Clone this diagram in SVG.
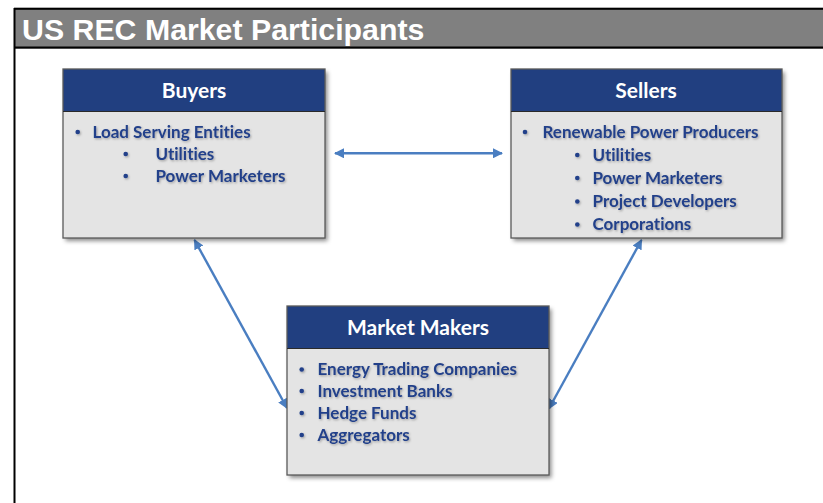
<svg xmlns="http://www.w3.org/2000/svg" width="823" height="503" viewBox="0 0 823 503">
<defs>
<filter id="boxShadow" x="-10%" y="-10%" width="125%" height="125%">
<feDropShadow dx="2.5" dy="3" stdDeviation="2" flood-color="#000" flood-opacity="0.45"/>
</filter>
<filter id="txtShadow" x="-5%" y="-20%" width="115%" height="160%">
<feDropShadow dx="1" dy="1.2" stdDeviation="0.9" flood-color="#000" flood-opacity="0.3"/>
</filter>
<marker id="ah" viewBox="0 0 10 10" refX="9" refY="5" markerWidth="4.2" markerHeight="4.2" orient="auto-start-reverse" markerUnits="strokeWidth">
<path d="M0,0 L10,5 L0,10 Z" fill="#4A7EC1"/>
</marker>
</defs>
<style>
.hdr{fill:#213F80;}
.body{fill:#E4E4E4;}
.frame{stroke:#5A5A5A;stroke-width:1.3;fill:none;}
.ttl{font-family:Lato,"Open Sans","Liberation Sans",sans-serif;font-weight:bold;font-size:21px;fill:#FFFFFF;text-anchor:middle;}
.itm{font-family:Lato,"Open Sans","Liberation Sans",sans-serif;font-weight:bold;font-size:17px;fill:#23418A;font-variant-ligatures:none;}
.bul{fill:#23418A;}
.conn{stroke:#4A7EC1;stroke-width:2.4;fill:none;marker-start:url(#ah);marker-end:url(#ah);}
</style>
<rect x="0" y="0" width="823" height="503" fill="#FFFFFF"/>
<g id="header">
<rect x="14" y="7" width="809" height="1" fill="#B0B0B0"/>
<rect x="14" y="8" width="809" height="40" fill="#808080"/>
<rect x="14" y="8" width="809" height="1.8" fill="#000"/>
<rect x="14" y="46.5" width="809" height="2.2" fill="#000"/>
<rect x="13.5" y="8" width="2" height="495" fill="#000"/>
<text x="22" y="40" font-family="'Liberation Sans',Arial,sans-serif" font-weight="bold" font-size="30.3" fill="#FFFFFF">US REC Market Participants</text>
</g>
<g id="connectors">
<line class="conn" x1="335" y1="153.3" x2="502" y2="153.3"/>
<line class="conn" x1="194.5" y1="240" x2="287" y2="408"/>
<line class="conn" x1="641.5" y1="240" x2="549" y2="408.5"/>
</g>
<g id="buyers">
<g filter="url(#boxShadow)">
<rect class="body" x="63" y="69" width="262" height="169"/>
</g>
<rect class="hdr" x="63" y="69" width="262" height="42.5"/>
<rect class="frame" x="63" y="69" width="262" height="169"/>
<line x1="63" y1="111.5" x2="325" y2="111.5" stroke="#2A2A2A" stroke-width="1"/>
<text class="ttl" x="194" y="97.5">Buyers</text>
<g filter="url(#txtShadow)">
<circle class="bul" cx="77.7" cy="132" r="2.3"/>
<text class="itm" x="92.5" y="137.5">Load Serving Entities</text>
<circle class="bul" cx="125.7" cy="154" r="2.3"/>
<text class="itm" x="155.5" y="159.5">Utilities</text>
<circle class="bul" cx="125.7" cy="176" r="2.3"/>
<text class="itm" x="155.5" y="181.5">Power Marketers</text>
</g>
</g>
<g id="sellers">
<g filter="url(#boxShadow)">
<rect class="body" x="511" y="69" width="271" height="169"/>
</g>
<rect class="hdr" x="511" y="69" width="271" height="42.5"/>
<rect class="frame" x="511" y="69" width="271" height="169"/>
<line x1="511" y1="111.5" x2="782" y2="111.5" stroke="#2A2A2A" stroke-width="1"/>
<text class="ttl" x="646" y="97.5">Sellers</text>
<g filter="url(#txtShadow)">
<circle class="bul" cx="525" cy="132" r="2.3"/>
<text class="itm" x="542.5" y="137.5">Renewable Power Producers</text>
<circle class="bul" cx="577.3" cy="155" r="2.3"/>
<text class="itm" x="592.5" y="160.5">Utilities</text>
<circle class="bul" cx="577.3" cy="178" r="2.3"/>
<text class="itm" x="592.5" y="183.5">Power Marketers</text>
<circle class="bul" cx="577.3" cy="201.5" r="2.3"/>
<text class="itm" x="592.5" y="207">Project Developers</text>
<circle class="bul" cx="577.3" cy="224.5" r="2.3"/>
<text class="itm" x="592.5" y="230">Corporations</text>
</g>
</g>
<g id="market-makers">
<g filter="url(#boxShadow)">
<rect class="body" x="287" y="306" width="262" height="169"/>
</g>
<rect class="hdr" x="287" y="306" width="262" height="42.5"/>
<rect class="frame" x="287" y="306" width="262" height="169"/>
<line x1="287" y1="348.5" x2="549" y2="348.5" stroke="#2A2A2A" stroke-width="1"/>
<text class="ttl" x="418" y="334.5">Market Makers</text>
<g filter="url(#txtShadow)">
<circle class="bul" cx="301.7" cy="369.5" r="2.3"/>
<text class="itm" x="317.5" y="375">Energy Trading Companies</text>
<circle class="bul" cx="301.7" cy="391" r="2.3"/>
<text class="itm" x="317.5" y="396.5">Investment Banks</text>
<circle class="bul" cx="301.7" cy="413" r="2.3"/>
<text class="itm" x="317.5" y="418.5">Hedge Funds</text>
<circle class="bul" cx="301.7" cy="435" r="2.3"/>
<text class="itm" x="317.5" y="440.5">Aggregators</text>
</g>
</g>
</svg>
